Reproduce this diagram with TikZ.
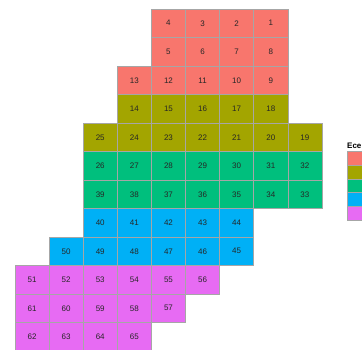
\documentclass[tikz,border=0pt]{standalone}
\usepackage{fontspec}
\setmainfont{Liberation Sans}
\usetikzlibrary{positioning}
\definecolor{ecoA}{HTML}{F8766D}
\definecolor{ecoB}{HTML}{A3A500}
\definecolor{ecoC}{HTML}{00BF7D}
\definecolor{ecoD}{HTML}{00B0F6}
\definecolor{ecoE}{HTML}{E76BF3}
\begin{document}
\begin{tikzpicture}[x=1pt,y=1pt,font=\fontsize{8}{9}\selectfont,
  cell/.style={draw=black!35,line width=0.6pt,fill=#1,minimum width=34.1pt,
    minimum height=28.5pt,inner sep=0pt,text=black!85},
  key/.style={draw=black!35,line width=0.6pt,fill=#1,minimum width=17pt,
    minimum height=13.8pt,inner sep=0pt,anchor=north west}]
\useasboundingbox (0,0) rectangle (362,-350);
\clip (0,0) rectangle (362,-350);
% plots by row: row / first column / plot numbers / group colour
\foreach \r/\s/\nums/\f in {0/4/{4,3,2,1}/ecoA,1/4/{5,6,7,8}/ecoA,
    2/3/{13,12,11,10,9}/ecoA,3/3/{14,15,16,17,18}/ecoB,
    4/2/{25,24,23,22,21,20,19}/ecoB,5/2/{26,27,28,29,30,31,32}/ecoC,
    6/2/{39,38,37,36,35,34,33}/ecoC,7/2/{40,41,42,43,44}/ecoD,
    8/1/{50,49,48,47,46,45}/ecoD,9/0/{51,52,53,54,55,56}/ecoE,
    10/0/{61,60,59,58,57}/ecoE,11/0/{62,63,64,65}/ecoE}{
  \foreach \n [count=\k from 0] in \nums{
    \node[cell=\f] (c\n) at (32.05+34.1*\s+34.1*\k,-23.25-28.5*\r) {\n};
  }
}
% legend (cut at the right edge)
\node[anchor=south west,inner sep=0pt,font=\fontsize{8}{9}\selectfont\bfseries] (ttl) at (347,-148.5) {Ece};
\foreach \f [count=\i from 0] in {ecoA,ecoB,ecoC,ecoD,ecoE}{
  \node[key=\f] (k\i) at (347,-151-13.8*\i) {};
}
\end{tikzpicture}
\end{document}
